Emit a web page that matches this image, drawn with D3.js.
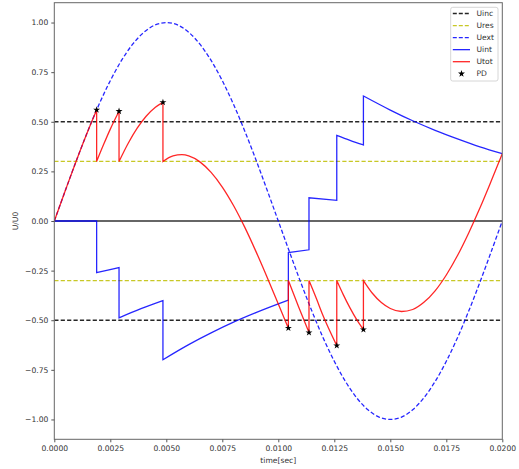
<!DOCTYPE html>
<html>
<head>
<meta charset="utf-8">
<script src="https://cdn.jsdelivr.net/npm/d3@7"></script>
<style>
body{margin:0;background:#fff;}
svg{display:block;font-family:"DejaVu Sans",sans-serif;}
</style>
</head>
<body>
<svg id="chart" width="519" height="469"></svg>
<script>
// ---- data ----
const Uinc = 0.5;
const Ures = 0.3;
// Uext sampled every 0.0005 s
const uextT = d3.range(41).map(i => i * 0.0005);
const uextV = [0,0.156,0.309,0.454,0.588,0.707,0.809,0.891,0.951,0.988,1.0,0.988,0.951,0.891,0.809,0.707,0.588,0.454,0.309,0.156,0,
  -0.156,-0.309,-0.454,-0.588,-0.707,-0.809,-0.891,-0.951,-0.988,-1.0,-0.988,-0.951,-0.891,-0.809,-0.707,-0.588,-0.454,-0.309,-0.156,0];
// Uint (t, value), jumps at PD times
const uintT = [0,0.00189, 0.00189,0.00239,0.00289, 0.00289,0.00387,0.00485, 0.00485,0.006,0.007,0.008,0.009,0.010,0.01045,
  0.01045,0.01137, 0.01137,0.01261, 0.01261,0.0132,0.0138, 0.0138,0.015,0.016,0.017,0.018,0.019,0.020];
const uintV = [0,0, -0.260,-0.247,-0.235, -0.488,-0.442,-0.401, -0.699,-0.623,-0.564,-0.510,-0.462,-0.418,-0.399,
  -0.159,-0.145, 0.117,0.104, 0.431,0.406,0.383, 0.630,0.559,0.505,0.457,0.414,0.374,0.339];
// Utot segments (t, value) between PDs
const utotSegT = [
  [0,0.0005,0.001,0.0015,0.00189],
  [0.00189,0.0022,0.0025,0.00289],
  [0.00289,0.0033,0.0037,0.0041,0.0045,0.00485],
  [0.00485,0.0053,0.0057,0.006,0.0065,0.007,0.0075,0.008,0.0085,0.009,0.0095,0.010,0.01045],
  [0.01045,0.0109,0.01137],
  [0.01137,0.0117,0.012,0.01261],
  [0.01261,0.0129,0.0132,0.0135,0.0138],
  [0.0138,0.0142,0.0146,0.015,0.0155,0.016,0.0165,0.017,0.0175,0.018,0.0185,0.019,0.0195,0.020]
];
const utotSegV = [
  [0,0.156,0.309,0.454,0.560],
  [0.300,0.385,0.463,0.553],
  [0.300,0.392,0.468,0.528,0.572,0.598],
  [0.300,0.328,0.334,0.328,0.298,0.245,0.171,0.078,-0.031,-0.153,-0.283,-0.418,-0.540],
  [-0.300,-0.431,-0.562],
  [-0.300,-0.391,-0.478,-0.628],
  [-0.300,-0.371,-0.438,-0.497,-0.547],
  [-0.300,-0.364,-0.411,-0.441,-0.456,-0.446,-0.410,-0.352,-0.272,-0.174,-0.060,0.065,0.200,0.339]
];
// PD events
const pdT = [0.00189,0.00289,0.00485,0.01045,0.01137,0.01261,0.0138];
const pdV = [0.560,0.553,0.598,-0.540,-0.562,-0.628,-0.547];
const xTicks = [0,0.0025,0.005,0.0075,0.01,0.0125,0.015,0.0175,0.02];
const yTicks = [-1,-0.75,-0.5,-0.25,0,0.25,0.5,0.75,1];

// ---- layout ----
const svg = d3.select("#chart");
const L = 54.3, R = 502.3, T = 2.7, B = 439.3;
const x = d3.scaleLinear().domain([0,0.02]).range([L,R]);
const y = d3.scaleLinear().domain([-1.1,1.1]).range([B,T]);

const col = {k:"#000000", y:"#bfbf00", b:"#0000ff", r:"#ff0000"};
const dash = "4.2,2.2";

const g = svg.append("g");
svg.append("defs").append("clipPath").attr("id","clip").append("rect")
  .attr("x",L).attr("y",T).attr("width",R-L).attr("height",B-T);
const plot = g.append("g").attr("clip-path","url(#clip)");

// zero line
plot.append("line").attr("x1",L).attr("x2",R).attr("y1",y(0)).attr("y2",y(0))
  .attr("stroke","#333").attr("stroke-width",1.4);

// Uinc / Ures lines
[[Uinc,col.k],[-Uinc,col.k],[Ures,col.y],[-Ures,col.y]].forEach(([v,c]) => {
  plot.append("line").attr("x1",L).attr("x2",R).attr("y1",y(v)).attr("y2",y(v))
    .attr("stroke",c).attr("stroke-width",1.3).attr("stroke-dasharray",dash).attr("opacity",0.85);
});

// Uext
const lineSmooth = d3.line().x(d=>x(d[0])).y(d=>y(d[1])).curve(d3.curveCatmullRom);
plot.append("path").datum(uextT.map((t,i)=>[t,uextV[i]])).attr("d",lineSmooth)
  .attr("fill","none").attr("stroke",col.b).attr("stroke-width",1.3).attr("stroke-dasharray",dash).attr("opacity",0.85);

// Uint (piecewise, with jumps)
const uintPts = uintT.map((t,i)=>[t,uintV[i]]);
const uintSegs = [];
let cur = [uintPts[0]];
for (let i=1;i<uintPts.length;i++){
  if (uintPts[i][0] === uintPts[i-1][0]) { uintSegs.push(cur); cur=[uintPts[i]]; }
  else cur.push(uintPts[i]);
}
uintSegs.push(cur);
let uintD = "";
uintSegs.forEach((s,i)=>{
  let d = d3.line().x(d=>x(d[0])).y(d=>y(d[1])).curve(d3.curveMonotoneX)(s);
  if (i>0) d = "L" + d.slice(1);
  uintD += d;
});
plot.append("path").attr("d",uintD).attr("fill","none").attr("stroke",col.b)
  .attr("stroke-width",1.3).attr("opacity",0.85).attr("stroke-linejoin","miter");

// Utot
let utotD = "";
utotSegT.forEach((ts,i)=>{
  const s = ts.map((t,j)=>[t,utotSegV[i][j]]);
  let d = d3.line().x(d=>x(d[0])).y(d=>y(d[1])).curve(d3.curveMonotoneX)(s);
  if (i>0) d = "L" + d.slice(1);
  utotD += d;
});
plot.append("path").attr("d",utotD).attr("fill","none").attr("stroke",col.r)
  .attr("stroke-width",1.3).attr("opacity",0.85);

// PD stars
const star = d3.symbol().type(d3.symbolStar).size(15);
g.selectAll(".pd").data(pdT.map((t,i)=>[t,pdV[i]])).enter().append("path")
  .attr("d",star).attr("transform",d=>`translate(${x(d[0])},${y(d[1])})`).attr("fill","#000");

// frame
g.append("rect").attr("x",L).attr("y",T).attr("width",R-L).attr("height",B-T)
  .attr("fill","none").attr("stroke","#666").attr("stroke-width",1);

// axes
const fmtX = d3.format(".4f"), fmtY = d3.format(".2f");
const xAxis = d3.axisBottom(x).tickValues(xTicks).tickFormat(d=>fmtX(d)).tickSize(3).tickPadding(3);
const yAxis = d3.axisLeft(y).tickValues(yTicks).tickFormat(d=>fmtY(d).replace("-","\u2212")).tickSize(3).tickPadding(3);
const gx = g.append("g").attr("transform",`translate(0,${B})`).call(xAxis);
const gy = g.append("g").attr("transform",`translate(${L},0)`).call(yAxis);
[gx,gy].forEach(a=>{
  a.select(".domain").remove();
  a.selectAll("line").attr("stroke","#555");
  a.selectAll("text").attr("font-size",7.6).attr("fill","#333").attr("font-family","DejaVu Sans");
});

g.append("text").attr("x",(L+R)/2).attr("y",463).attr("text-anchor","middle")
  .attr("font-size",7.6).attr("fill","#333").text("time[sec]");
g.append("text").attr("transform",`translate(18,${(T+B)/2}) rotate(-90)`).attr("text-anchor","middle")
  .attr("font-size",7.6).attr("fill","#333").text("U/U0");

// legend
const leg = g.append("g");
leg.append("rect").attr("x",450.7).attr("y",7.3).attr("width",47.3).attr("height",73.7)
  .attr("rx",2).attr("fill","#fff").attr("fill-opacity",0.8).attr("stroke","#ccc").attr("stroke-width",0.8);
const legItems = [
  {name:"Uinc", c:col.k, dash:true},
  {name:"Ures", c:col.y, dash:true},
  {name:"Uext", c:col.b, dash:true},
  {name:"Uint", c:col.b, dash:false},
  {name:"Utot", c:col.r, dash:false},
  {name:"PD", marker:true}
];
legItems.forEach((it,i)=>{
  const yy = 13.5 + i*12.05;
  if (it.marker) {
    leg.append("path").attr("d",star).attr("transform",`translate(461.5,${yy})`).attr("fill","#000");
  } else {
    leg.append("line").attr("x1",452.8).attr("x2",470).attr("y1",yy).attr("y2",yy)
      .attr("stroke",it.c).attr("stroke-width",1.3).attr("opacity",0.85)
      .attr("stroke-dasharray",it.dash?"4,2":null);
  }
  leg.append("text").attr("x",476.5).attr("y",yy+2.7).attr("font-size",7.6).attr("fill","#333333").text(it.name);
});
</script>
</body>
</html>
